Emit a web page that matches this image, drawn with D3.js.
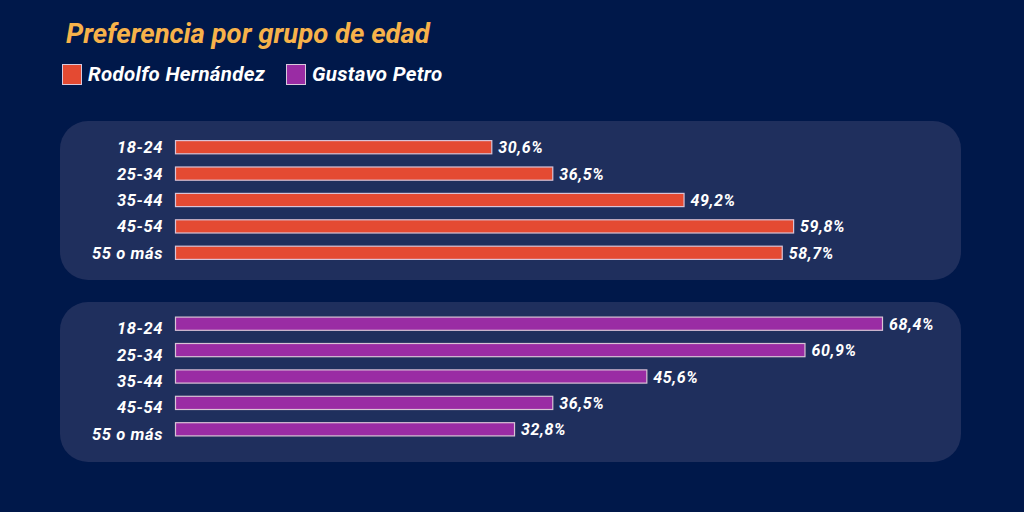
<!DOCTYPE html>
<html><head><meta charset="utf-8">
<script src="https://cdn.jsdelivr.net/npm/d3@7"></script>
<style>body{margin:0;background:#00184A;} svg{display:block;}</style>
</head><body>
<svg id="c" width="1024" height="512"></svg>
<script>
const ageGroups = ["18-24","25-34","35-44","45-54","55 o más"];
const rodolfo = [30.6, 36.5, 49.2, 59.8, 58.7];
const petro = [68.4, 60.9, 45.6, 36.5, 32.8];
const seriesNames = ["Rodolfo Hernández","Gustavo Petro"];
const seriesColors = ["#E44A32","#9A2CA4"];
const title = "Preferencia por grupo de edad";

const svg = d3.select("#c");
const font = "Roboto, 'Open Sans', sans-serif";
svg.append("rect").attr("width",1024).attr("height",512).attr("fill","#00184A");

svg.append("text").attr("x",66).attr("y",43).text(title)
  .attr("font-family",font).attr("font-size",27.5).attr("font-weight","bold").attr("font-style","italic")
  .attr("fill","#F7B24A");

const leg = svg.append("g");
const legX = [62, 286];
seriesNames.forEach((n,i)=>{
  leg.append("rect").attr("x",legX[i]+0.5).attr("y",64.5).attr("width",19).attr("height",20)
    .attr("fill",seriesColors[i]).attr("stroke","#d8c8dc").attr("stroke-width",1);
  leg.append("text").attr("x",legX[i]+26).attr("y",81).text(n)
    .attr("font-family",font).attr("font-size",20.5).attr("font-weight","bold").attr("font-style","italic")
    .attr("letter-spacing",0.3).attr("fill","#fff");
});

const x = d3.scaleLinear().domain([0,68.4]).range([175,882]);
const fmt = v => d3.format(".1f")(v).replace(".",",")+"%";

const panels = [{data:rodolfo, top:121, h:159, shift:0},{data:petro, top:302, h:160, shift:-4.5}];
panels.forEach((p,pi)=>{
  svg.append("rect").attr("x",60).attr("y",p.top).attr("width",901).attr("height",p.h)
    .attr("rx",28).attr("fill","#1F2F5D");
  const y = d3.scaleBand().domain(ageGroups).range([p.top+13, p.top+145]).paddingInner(0.5).paddingOuter(0.25);
  const by = d => y(d) + p.shift;
  const g = svg.append("g");
  g.selectAll("rect.bar").data(ageGroups).join("rect").attr("class","bar")
    .attr("x",x(0)+0.5).attr("y",d=>by(d))
    .attr("width",(d,i)=>x(p.data[i])-x(0)).attr("height",y.bandwidth())
    .attr("fill",seriesColors[pi]).attr("stroke","#d9c3d6").attr("stroke-width",1.2);
  g.selectAll("text.cat").data(ageGroups).join("text").attr("class","cat")
    .attr("x",163).attr("y",d=>y(d)+y.bandwidth()/2).attr("dy","0.36em")
    .attr("text-anchor","end").text(d=>d)
    .attr("font-family",font).attr("font-size",16.5).attr("font-weight","bold").attr("font-style","italic")
    .attr("letter-spacing",0.6).attr("fill","#fff");
  g.selectAll("text.val").data(ageGroups).join("text").attr("class","val")
    .attr("x",(d,i)=>x(p.data[i])+7).attr("y",d=>by(d)+y.bandwidth()/2).attr("dy","0.38em")
    .text((d,i)=>fmt(p.data[i]))
    .attr("font-family",font).attr("font-size",16).attr("font-weight","bold").attr("font-style","italic")
    .attr("letter-spacing",0.6).attr("fill","#fff");
});
</script>
</body></html>
